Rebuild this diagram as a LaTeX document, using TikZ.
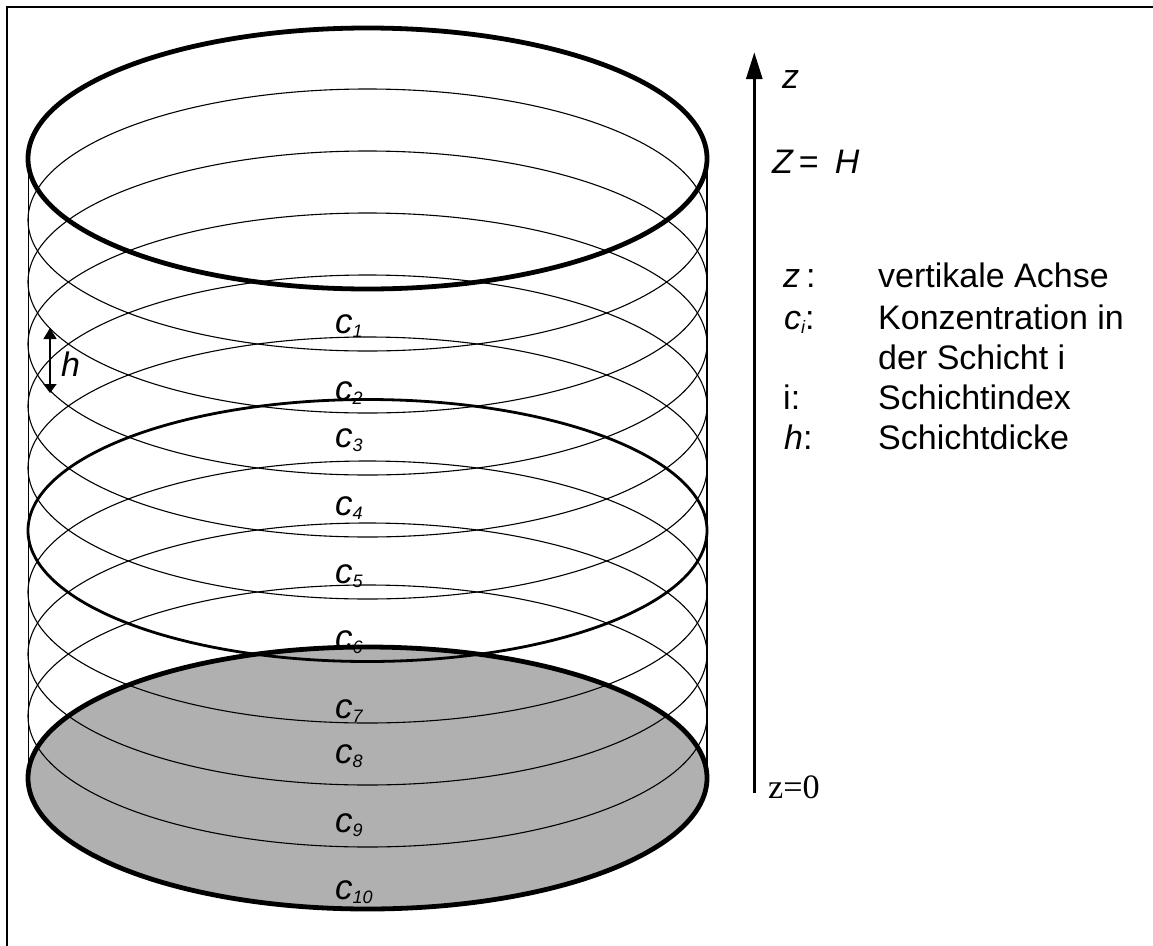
\documentclass[tikz,border=0pt]{standalone}
\usepackage{fontspec}
\setmainfont{Liberation Sans}
\newfontfamily\serifz{Liberation Serif}
\newcommand{\subs}[1]{\raisebox{-4.5pt}{\fontsize{18}{18}\selectfont\itshape #1}}
\begin{document}
\begin{tikzpicture}[x=1pt,y=-1pt,
  thinring/.style={draw=black,line width=1.1pt},
  midring/.style={draw=black,line width=2.8pt},
  thickring/.style={draw=black,line width=4.8pt},
  clabel/.style={font=\fontsize{35}{35}\selectfont\itshape,anchor=base west,inner sep=0pt,text=black},
  txt/.style={font=\fontsize{34}{34}\selectfont,anchor=base west,inner sep=0pt}]
\useasboundingbox (0,0) rectangle (1153,945);
\fill[white] (0,0) rectangle (1153,945);
\clip (0,0) rectangle (1153,945);
\coordinate (fa) at (7,950); \coordinate (fb) at (7,7); \coordinate (fc) at (1160,7);
\draw[line width=2pt] (fa) -- (fb) -- (fc);
% base disc
\fill[black!31] (367.5,778) ellipse [x radius=339.5,y radius=131];
% labels, below the rings
\node[clabel] (c1) at (335,333) {c\subs{1}};
\node[clabel] (c2) at (335,400) {c\subs{2}};
\node[clabel] (c3) at (335,447) {c\subs{3}};
\node[clabel] (c4) at (335,515) {c\subs{4}};
\node[clabel] (c5) at (335,583) {c\subs{5}};
\node[clabel] (c6) at (335,649) {c\subs{6}};
\node[clabel] (c7) at (335,718) {c\subs{7}};
\node[clabel] (c8) at (335,763) {c\subs{8}};
\node[clabel] (c9) at (335,832) {c\subs{9}};
\node[clabel] (c10) at (335,899) {c\subs{10}};
% walls
\coordinate (wl1) at (28.3,158); \coordinate (wl2) at (28.3,778);
\coordinate (wr1) at (707,158); \coordinate (wr2) at (707,778);
\draw[thinring] (wl1) -- (wl2);
\draw[thinring] (wr1) -- (wr2);
% rings
\foreach \cy in {220,282,344,406,468,592,654,716}
  \draw[thinring] (367.5,\cy) ellipse [x radius=339.5,y radius=131];
\draw[midring] (367.5,530.5) ellipse [x radius=339.5,y radius=131];
\draw[thickring] (367.5,158.5) ellipse [x radius=339.5,y radius=130.5];
\draw[thickring] (367.5,778) ellipse [x radius=339.5,y radius=131];
% h arrow
\coordinate (ht) at (50,328); \coordinate (hb) at (50,393);
\draw[line width=1.1pt] (50,338) -- (50,385);
\fill (ht) -- (56.7,339) -- (43.3,339) -- cycle;
\fill (hb) -- (56.7,384) -- (43.3,384) -- cycle;
\node[clabel] (h) at (61,376) {\fontsize{34}{34}\selectfont h};
% axis
\coordinate (a1) at (754.3,793); \coordinate (a2) at (754.3,78);
\draw[line width=2.4pt] (a1) -- (a2);
\fill (754.3,52.5) -- (762.7,79) -- (745.9,79) -- cycle;
\node[txt] (z) at (782,88) {\itshape z};
\node[txt] (zh) at (772,173) {\itshape Z\kern6pt\upshape =\kern16pt\itshape H};
\node[inner sep=0pt,anchor=base west,font=\fontsize{34.2}{34.2}\selectfont\serifz] (z0) at (768,798) {z=0};
% legend
\node[txt] (l1a) at (783,287) {\itshape z\kern6pt\upshape :};
\node[txt] (l1b) at (878,287) {vertikale Achse};
\node[txt] (l2a) at (784,329) {\itshape c\subs{i}\upshape :};
\node[txt] (l2b) at (878,329) {Konzentration in};
\node[txt] (l3b) at (878,369) {der Schicht i};
\node[txt] (l4a) at (783,409) {i:};
\node[txt] (l4b) at (878,409) {Schichtindex};
\node[txt] (l5a) at (784,449) {\itshape h\upshape :};
\node[txt] (l5b) at (878,449) {Schichtdicke};
\end{tikzpicture}
\end{document}
